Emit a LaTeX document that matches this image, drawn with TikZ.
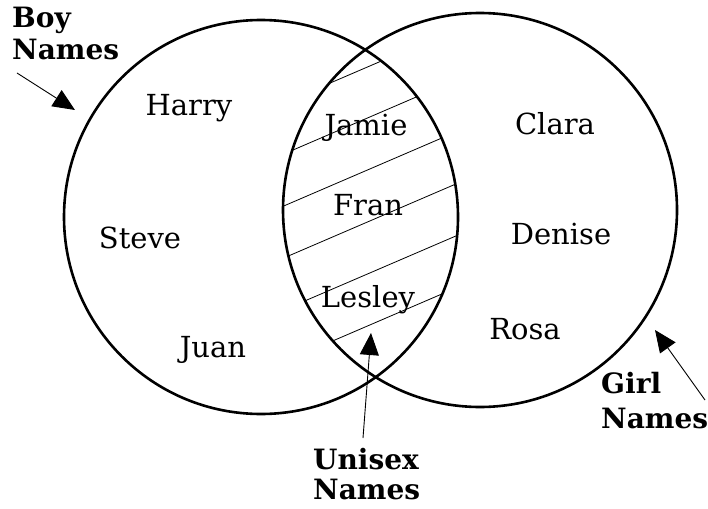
\documentclass[tikz,border=0pt]{standalone}
\usepackage{fontspec}
\setmainfont{DejaVu Serif}
\usetikzlibrary{arrows.meta}
\begin{document}
\begin{tikzpicture}[x=1pt,y=-1pt,
  setcircle/.style={line width=2.6pt},
  hatch/.style={line width=0.8pt},
  pointer/.style={line width=0.9pt,-{Triangle[length=22pt,width=19pt]}},
  member/.style={font=\fontsize{29}{32}\selectfont,anchor=base,inner sep=0pt},
  setlabel/.style={font=\bfseries\fontsize{28}{32}\selectfont,align=left,anchor=north west,inner sep=0pt}]
\useasboundingbox (0,0) rectangle (708,508);
% hatching of the intersection
\begin{scope}
  \clip (261,217) circle[radius=197pt];
  \clip (480,210) circle[radius=197pt];
  \foreach \b in {225,276,328,380,432,484}{
    \draw[hatch] (270,\b-116.1) -- (470,\b-202.1);
  }
\end{scope}
% sets
\draw[setcircle] (261,217) circle[radius=197pt];
\draw[setcircle] (480,210) circle[radius=197pt];
% members
\node[member] (harry) at (189,115) {Harry};
\node[member] (steve) at (140,248) {Steve};
\node[member] (juan) at (213,357) {Juan};
\node[member] (jamie) at (366,135) {Jamie};
\node[member] (fran) at (368,215) {Fran};
\node[member] (lesley) at (368,307) {Lesley};
\node[member] (clara) at (555,134) {Clara};
\node[member] (denise) at (561,244) {Denise};
\node[member] (rosa) at (525,339) {Rosa};
% set labels
\node[setlabel] (boy) at (12,7) {Boy\\Names};
\node[setlabel,font=\bfseries\fontsize{28}{30}\selectfont] (unisex) at (313,448) {Unisex\\Names};
\node[setlabel,font=\bfseries\fontsize{28}{35}\selectfont] (girl) at (601,372) {Girl\\Names};
% pointers
\coordinate (boyfrom) at (17,73);
\coordinate (boyto) at (75,110);
\coordinate (unifrom) at (363,438);
\coordinate (unito) at (371,333);
\coordinate (girlfrom) at (705,400);
\coordinate (girlto) at (655,330);
\draw[pointer] (boyfrom) -- (boyto);
\draw[pointer] (unifrom) -- (unito);
\draw[pointer] (girlfrom) -- (girlto);
\end{tikzpicture}
\end{document}
